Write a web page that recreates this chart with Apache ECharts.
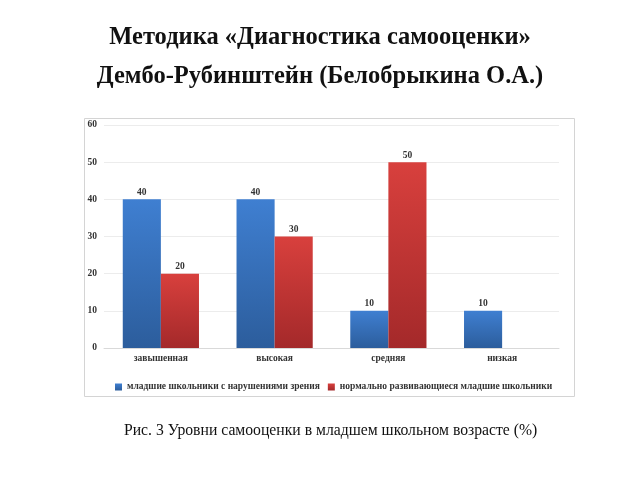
<!DOCTYPE html>
<html><head><meta charset="utf-8">
<script src="https://cdn.jsdelivr.net/npm/echarts@6/dist/echarts.min.js"></script>
<style>html,body{margin:0;padding:0;background:#fff}#c{width:640px;height:480px}</style>
</head><body><div id="c"></div>
<script>
const categories = ['завышенная', 'высокая', 'средняя', 'низкая'];
const seriesNames = ['младшие школьники с нарушениями зрения', 'нормально развивающиеся младшие школьники'];
const visionImpaired = [40, 40, 10, 10];
const normalDev = [20, 30, 50, null];
const yTicks = [0, 10, 20, 30, 40, 50, 60];

const serif = '"Liberation Serif", "DejaVu Serif", serif';
const chart = echarts.init(document.getElementById('c'), null, {renderer: 'canvas'});
function grad(top, bottom) {
  return new echarts.graphic.LinearGradient(0, 0, 0, 1, [{offset: 0, color: top}, {offset: 1, color: bottom}]);
}
chart.setOption({
  backgroundColor: '#fff',
  animation: false,
  title: [
    {text: 'Методика «Диагностика самооценки»', left: 'center', top: 20,
     textStyle: {fontFamily: serif, fontSize: 24.5, fontWeight: 'bold', color: '#111'}},
    {text: 'Дембо-Рубинштейн (Белобрыкина О.А.)', left: 'center', top: 59,
     textStyle: {fontFamily: serif, fontSize: 24.5, fontWeight: 'bold', color: '#111'}},
    {text: 'Рис. 3 Уровни самооценки в младшем школьном возрасте (%)', left: 119, top: 418,
     textStyle: {fontFamily: serif, fontSize: 15.7, fontWeight: 'normal', color: '#111'}}
  ],
  graphic: [{type: 'rect', shape: {x: 84.5, y: 118.5, width: 490, height: 278},
    style: {fill: 'none', stroke: '#d4d4d4', lineWidth: 1}, z: -1}],
  legend: {
    data: seriesNames, top: 377, left: 110, itemWidth: 7, itemHeight: 7, itemGap: 8,
    icon: 'rect',
    textStyle: {fontFamily: serif, fontSize: 9.5, fontWeight: 'bold', color: '#333'}
  },
  grid: {left: 104, right: 81, top: 125, bottom: 132},
  xAxis: {
    type: 'category', data: categories,
    axisLine: {lineStyle: {color: '#d9d9d9'}}, axisTick: {show: false},
    axisLabel: {fontFamily: serif, fontSize: 9.5, fontWeight: 'bold', color: '#333', margin: 6}
  },
  yAxis: {
    type: 'value', min: 0, max: 60, interval: 10,
    axisLine: {show: false}, axisTick: {show: false},
    splitLine: {lineStyle: {color: '#ececec'}},
    axisLabel: {fontFamily: serif, fontSize: 9.5, fontWeight: 'bold', color: '#333', margin: 7,
      formatter: v => yTicks.includes(v) ? String(v) : ''}
  },
  series: [
    {name: seriesNames[0], type: 'bar', data: visionImpaired, barGap: '0%', barCategoryGap: '33%',
     itemStyle: {color: grad('#3f7fd1', '#2c5d9c')},
     label: {show: true, position: 'top', distance: 2, fontFamily: serif, fontSize: 9.5, fontWeight: 'bold', color: '#333'}},
    {name: seriesNames[1], type: 'bar', data: normalDev,
     itemStyle: {color: grad('#d8403d', '#a4292a')},
     label: {show: true, position: 'top', distance: 2, fontFamily: serif, fontSize: 9.5, fontWeight: 'bold', color: '#333'}}
  ]
});
</script></body></html>
